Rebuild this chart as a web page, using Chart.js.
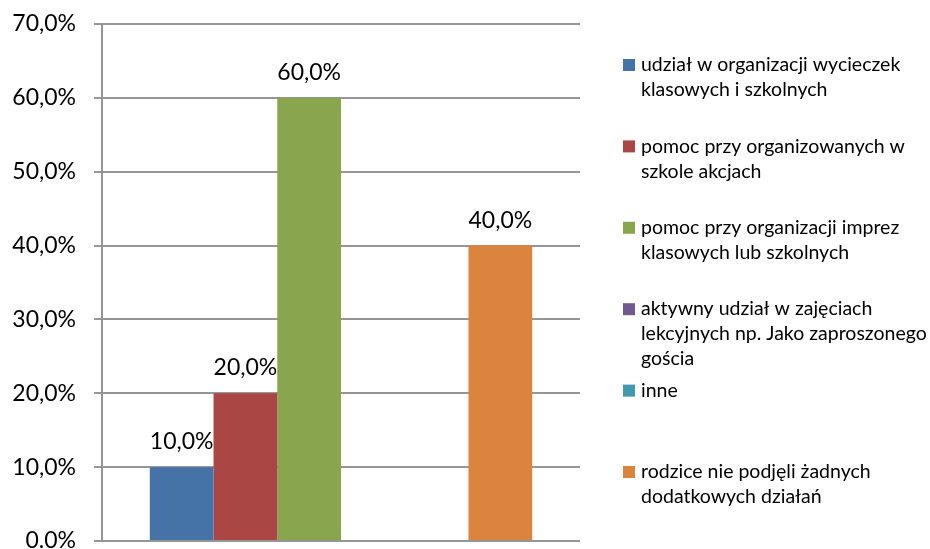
<!DOCTYPE html>
<html>
<head>
<meta charset="utf-8">
<script src="https://cdn.jsdelivr.net/npm/chart.js@4.4.1/dist/chart.umd.min.js"></script>
<style>
  html, body { margin: 0; padding: 0; background: #fff; overflow: hidden; }
  canvas { display: block; }
</style>
</head>
<body>
<canvas id="myBarChart" width="930" height="549"></canvas>
<script>
// Series names, split into the lines shown in the legend
const seriesLines = [
  ["udział w organizacji wycieczek", "klasowych i szkolnych"],
  ["pomoc przy organizowanych w", "szkole akcjach"],
  ["pomoc przy organizacji imprez", "klasowych lub szkolnych"],
  ["aktywny udział w zajęciach", "lekcyjnych np. Jako zaproszonego", "gościa"],
  ["inne"],
  ["rodzice nie podjęli żadnych", "dodatkowych działań"],
];
const seriesValues = [10, 20, 60, null, null, 40];
const seriesColors = ["#4572A7", "#AA4643", "#89A54E", "#71588F", "#4198AF", "#DB843D"];
const tickLabels = ["0.0%", "10,0%", "20,0%", "30,0%", "40,0%", "50,0%", "60,0%", "70,0%"];

const FONT = "Lato, 'Open Sans', sans-serif";

// value labels above bars
const valueLabels = {
  id: "valueLabels",
  afterDatasetsDraw(chart) {
    const ctx = chart.ctx;
    ctx.save();
    ctx.font = "23px " + FONT;
    ctx.fillStyle = "#000";
    ctx.textAlign = "center";
    ctx.textBaseline = "alphabetic";
    chart.data.datasets.forEach((ds, i) => {
      const v = ds.data[0];
      if (v == null) return;
      const bar = chart.getDatasetMeta(i).data[0];
      ctx.fillText(v.toFixed(1).replace(".", ",") + "%", bar.x, bar.y - 18);
    });
    ctx.restore();
  },
};

// legend on the right with wrapped names
const sideLegend = {
  id: "sideLegend",
  afterDraw(chart) {
    const ctx = chart.ctx;
    ctx.save();
    ctx.font = "19.5px " + FONT;
    ctx.textBaseline = "middle";
    ctx.textAlign = "left";
    seriesLines.forEach((lines, i) => {
      const y = 65 + i * 81.4;
      ctx.fillStyle = seriesColors[i];
      ctx.fillRect(623, y - 6, 12, 12);
      ctx.fillStyle = "#000";
      lines.forEach((t, k) => ctx.fillText(t, 641, y + k * 25));
    });
    ctx.restore();
  },
};

const datasets = seriesLines.map((lines, i) => ({
  label: lines.join(" "),
  data: [seriesValues[i]],
  backgroundColor: seriesColors[i],
  categoryPercentage: 0.8,
  barPercentage: 1,
}));

const barChart = document.getElementById("myBarChart").getContext("2d");
const myBarChart = new Chart(barChart, {
  type: "bar",
  data: { labels: [""], datasets: datasets },
  plugins: [valueLabels, sideLegend],
  options: {
    responsive: false,
    animation: false,
    layout: { padding: { top: 24, right: 350, bottom: 8, left: 0 } },
    scales: {
      x: { display: false },
      y: {
        min: 0,
        max: 70,
        afterFit(scale) {
          scale.width = 102;
          // keep the tick padding from pushing the plot area in
          scale.paddingTop = 0;
          scale.paddingBottom = 0;
        },
        ticks: {
          stepSize: 10,
          padding: 18,
          color: "#000",
          font: { family: FONT, size: 23 },
          callback: (value, index) => tickLabels[index],
        },
        grid: { color: "#969696", lineWidth: 2, tickLength: 8, tickColor: "#969696" },
        border: { color: "#969696", width: 2 },
      },
    },
    plugins: {
      legend: { display: false },
      tooltip: { enabled: false },
    },
  },
});
</script>
</body>
</html>
